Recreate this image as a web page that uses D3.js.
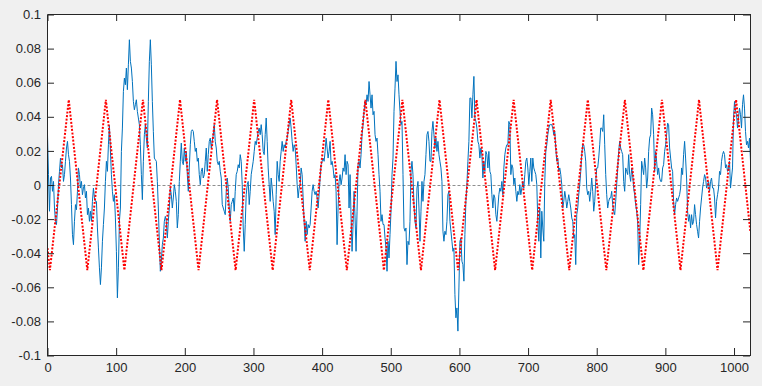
<!DOCTYPE html>
<html>
<head>
<meta charset="utf-8">
<script src="https://cdn.jsdelivr.net/npm/d3@7"></script>
<style>
  html, body { margin: 0; padding: 0; background: #f0f0f0; }
  svg { display: block; }
</style>
</head>
<body>
<script>
// axis settings
const xDomain = [0, 1024];
const yDomain = [-0.1, 0.1];
const xTicks = [0, 100, 200, 300, 400, 500, 600, 700, 800, 900, 1000];
const yTicks = [-0.1, -0.08, -0.06, -0.04, -0.02, 0, 0.02, 0.04, 0.06, 0.08, 0.1];

// red dotted reference: corner points of the triangle wave
const triX = [0, 3.5, 31, 58, 85, 112, 139, 166, 193, 220, 247, 274, 301, 328, 355, 382, 409, 436, 463, 490,
  517, 544, 571, 598, 625, 652, 679, 706, 733, 760, 787, 814, 841, 868, 895, 922, 949, 976, 1003, 1024];
const triY = [-0.037, -0.05, 0.05, -0.05, 0.05, -0.05, 0.05, -0.05, 0.05, -0.05, 0.05, -0.05, 0.05, -0.05,
  0.05, -0.05, 0.05, -0.05, 0.05, -0.05, 0.05, -0.05, 0.05, -0.05, 0.05, -0.05, 0.05, -0.05, 0.05, -0.05,
  0.05, -0.05, 0.05, -0.05, 0.05, -0.05, 0.05, -0.05, 0.05, -0.028];

// blue measured signal, evenly spaced over 0..1024
const signal = [
  0.0295, 0.0061, -0.0154, 0.0041, 0.0051, -0.0037, 0.0021, -0.0135, -0.0213, -0.0232,
  -0.0135, 0.0002, 0.0080, 0.0158, 0.0100, 0.0119, 0.0021, 0.0061, 0.0139, 0.0217,
  0.0256, 0.0178, 0.0139, 0.0041, -0.0115, -0.0291, -0.0350, -0.0213, -0.0115, -0.0145,
  -0.0037, 0.0100, 0.0061, -0.0018, 0.0021, -0.0057, -0.0018, 0.0002, -0.0076, -0.0037,
  -0.0174, -0.0135, -0.0213, -0.0154, -0.0213, -0.0096, -0.0018, -0.0076, -0.0096, -0.0096,
  -0.0252, -0.0369, -0.0486, -0.0584, -0.0486, -0.0330, -0.0232, -0.0135, 0.0021, 0.0139,
  0.0080, 0.0236, 0.0350, 0.0200, 0.0061, -0.0037, -0.0096, -0.0057, -0.0193, -0.0389,
  -0.0662, -0.0486, -0.0213, -0.0135, 0.0197, 0.0334, 0.0549, 0.0627, 0.0588, 0.0686,
  0.0559, 0.0705, 0.0852, 0.0725, 0.0686, 0.0607, 0.0490, 0.0441, 0.0471, 0.0500,
  0.0432, 0.0393, 0.0354, 0.0236, 0.0061, -0.0086, 0.0139, 0.0295, 0.0354, 0.0275, 0.0217,

  0.0490, 0.0725, 0.0852, 0.0705, 0.0490, 0.0314, 0.0158, 0.0148, 0.0139, 0.0021,
  -0.0135, -0.0330, -0.0506, -0.0447, -0.0350, -0.0311, -0.0213, -0.0184, -0.0213, -0.0311,
  -0.0213, -0.0135, -0.0018, -0.0057, -0.0135, -0.0076, 0.0002, -0.0037, -0.0096, -0.0252,
  -0.0174, 0.0021, 0.0139, 0.0246, 0.0139, 0.0119, 0.0217, 0.0139, 0.0197, 0.0061,
  -0.0037, 0.0100, 0.0236, 0.0314, 0.0324, 0.0314, 0.0256, 0.0197, 0.0217, 0.0139,
  0.0158, 0.0061, 0.0002, 0.0080, 0.0100, 0.0041, 0.0061, 0.0139, 0.0217, 0.0080,
  0.0178, 0.0256, 0.0275, 0.0217, 0.0256, 0.0295, 0.0354, 0.0256, 0.0217, 0.0139,
  0.0119, 0.0139, 0.0080, 0.0041, -0.0115, -0.0135, -0.0154, -0.0174, -0.0037, 0.0041,
  -0.0018, -0.0135, -0.0213, -0.0115, -0.0096, -0.0076, -0.0154, -0.0037, 0.0061, 0.0080,
  0.0119, 0.0100, 0.0178, 0.0139, 0.0002, -0.0252, -0.0389, -0.0232, -0.0057, 0.0002, 0.0021,

  -0.0115, -0.0037, 0.0061, 0.0100, 0.0139, 0.0197, 0.0256, 0.0236, 0.0275, 0.0314,
  0.0334, 0.0295, 0.0354, 0.0295, 0.0197, 0.0178, 0.0295, 0.0393, 0.0256, 0.0100,
  0.0002, -0.0096, 0.0041, -0.0018, -0.0096, -0.0154, -0.0291, -0.0057, 0.0139, 0.0061,
  0.0021, 0.0139, 0.0197, 0.0256, 0.0197, 0.0236, 0.0217, 0.0256, 0.0275, 0.0314,
  0.0354, 0.0393, 0.0334, 0.0256, 0.0197, 0.0236, 0.0217, 0.0119, 0.0002, -0.0076,
  -0.0018, 0.0002, 0.0100, 0.0061, -0.0076, -0.0213, -0.0330, -0.0213, -0.0291, -0.0232,
  -0.0252, -0.0232, -0.0135, -0.0037, 0.0002, -0.0037, -0.0057, -0.0037, -0.0076, -0.0135,
  -0.0057, 0.0041, 0.0119, 0.0139, 0.0158, 0.0139, 0.0197, 0.0275, 0.0217, 0.0158,
  0.0197, 0.0256, 0.0119, 0.0139, 0.0100, 0.0041, 0.0061, -0.0037, -0.0350, -0.0135,
  0.0021, 0.0061, 0.0002, 0.0041, 0.0100, 0.0080, 0.0178, 0.0061, 0.0139, 0.0119, -0.0135,

  0.0061, -0.0193, -0.0389, -0.0232, -0.0037, -0.0193, -0.0389, -0.0154, 0.0119, 0.0139,
  0.0100, 0.0178, 0.0295, 0.0354, 0.0432, 0.0490, 0.0471, 0.0529, 0.0490, 0.0607,
  0.0529, 0.0451, 0.0529, 0.0412, 0.0432, 0.0295, 0.0256, 0.0275, 0.0178, 0.0061,
  -0.0037, -0.0213, -0.0174, -0.0232, -0.0232, -0.0311, -0.0369, -0.0506, -0.0330, -0.0428,
  -0.0291, -0.0154, 0.0061, 0.0158, 0.0432, 0.0568, 0.0725, 0.0607, 0.0646, 0.0529,
  0.0432, 0.0354, 0.0373, 0.0061, -0.0252, -0.0271, -0.0252, -0.0467, -0.0330, -0.0350,
  -0.0213, 0.0080, 0.0139, 0.0061, -0.0115, -0.0213, -0.0252, -0.0018, 0.0021, -0.0135,
  -0.0330, -0.0154, 0.0021, -0.0096, 0.0021, 0.0061, 0.0178, 0.0295, 0.0314, 0.0256,
  0.0139, 0.0139, 0.0314, 0.0373, 0.0295, 0.0217, 0.0275, 0.0197, 0.0256, 0.0178,
  0.0139, 0.0100, 0.0021, -0.0271, -0.0330, -0.0271, -0.0291, -0.0213, -0.0057, -0.0037,

  -0.0213, -0.0271, -0.0330, -0.0389, -0.0369, -0.0643, -0.0779, -0.0721, -0.0857, -0.0604,
  -0.0330, -0.0311, -0.0447, -0.0467, -0.0564, -0.0291, -0.0096, 0.0002, 0.0139, 0.0256,
  0.0510, 0.0510, 0.0393, 0.0529, 0.0637, 0.0393, 0.0373, 0.0334, 0.0256, 0.0236,
  0.0158, 0.0217, 0.0178, 0.0041, 0.0139, 0.0080, 0.0197, 0.0178, 0.0100, 0.0197,
  0.0080, 0.0061, -0.0057, -0.0135, -0.0057, -0.0076, -0.0174, -0.0213, -0.0135, -0.0057,
  -0.0018, -0.0037, 0.0021, -0.0057, 0.0100, 0.0178, 0.0217, 0.0236, 0.0236, 0.0373,
  0.0354, 0.0061, 0.0119, 0.0100, 0.0002, 0.0041, -0.0037, -0.0096, -0.0037, -0.0057,
  0.0002, -0.0057, -0.0018, 0.0021, -0.0018, 0.0061, 0.0139, 0.0158, 0.0100, 0.0002,
  0.0080, 0.0158, 0.0021, 0.0158, 0.0100, 0.0080, 0.0061, 0.0002, -0.0213, -0.0330,
  -0.0135, -0.0428, -0.0154, -0.0252, -0.0330, 0.0021, 0.0197, 0.0236, 0.0295, 0.0334, 0.0354,

  0.0354, 0.0354, 0.0334, 0.0295, 0.0314, 0.0217, 0.0139, 0.0158, 0.0080, 0.0100,
  0.0061, 0.0002, -0.0135, -0.0096, -0.0037, -0.0076, -0.0135, -0.0096, -0.0057, -0.0096,
  -0.0135, -0.0193, -0.0213, -0.0311, -0.0291, -0.0467, -0.0174, -0.0135, -0.0057, 0.0002,
  0.0080, 0.0178, 0.0236, 0.0236, 0.0197, 0.0139, -0.0018, -0.0057, -0.0037, -0.0096,
  -0.0037, 0.0041, -0.0037, -0.0154, -0.0096, 0.0021, 0.0100, 0.0100, 0.0158, 0.0236,
  0.0334, 0.0334, 0.0314, 0.0412, 0.0236, 0.0061, -0.0057, -0.0135, -0.0096, -0.0076,
  -0.0076, -0.0037, -0.0115, -0.0154, -0.0174, -0.0096, 0.0002, 0.0100, 0.0197, 0.0256,
  0.0217, 0.0197, 0.0178, 0.0021, -0.0037, 0.0100, 0.0080, 0.0061, 0.0178, 0.0061,
  0.0021, 0.0100, 0.0061, -0.0018, -0.0057, -0.0115, -0.0154, -0.0213, -0.0467, -0.0330,
  -0.0115, 0.0139, 0.0100, 0.0061, 0.0158, 0.0100, -0.0018, 0.0041, 0.0197, 0.0275,
  0.0295, 0.0451,

  0.0412, 0.0295, 0.0080, 0.0197, 0.0139, 0.0061, 0.0100, 0.0041, 0.0021, 0.0021,
  0.0100, 0.0119, 0.0197, 0.0236, 0.0295, 0.0363, 0.0354, 0.0217, 0.0158, 0.0100,
  0.0080, -0.0096, -0.0174, -0.0115, -0.0076, -0.0096, -0.0076, -0.0057, -0.0018, 0.0100,
  0.0061, 0.0178, 0.0256, 0.0158, 0.0041, -0.0154, -0.0213, -0.0174, -0.0252, -0.0174,
  -0.0232, -0.0213, -0.0115, -0.0174, -0.0232, -0.0271, -0.0311, -0.0213, -0.0135, -0.0076,
  -0.0018, 0.0021, 0.0061, 0.0041, -0.0018, 0.0002, 0.0021, -0.0037, 0.0021, 0.0041,
  -0.0018, -0.0018, -0.0076, -0.0193, -0.0096, -0.0057, -0.0018, 0.0080, 0.0061, 0.0139,
  0.0178, 0.0197, 0.0178, 0.0100, 0.0119, 0.0080, 0.0100, 0.0139, -0.0018, 0.0041,
  0.0100, 0.0393, 0.0490, 0.0432, 0.0412, 0.0334, 0.0393, 0.0451, 0.0412, 0.0334,
  0.0471, 0.0529, 0.0451, 0.0314, 0.0236, 0.0256, 0.0217, 0.0275, 0.0139
];

const svgWidth = 762, svgHeight = 386;
const margin = { left: 47, top: 14 };
const plotW = 703, plotH = 341;
const axisColor = '#262626';

let svg = d3.select('body').append('svg')
  .attr('width', svgWidth)
  .attr('height', svgHeight);

svg.append('rect')
  .attr('width', svgWidth)
  .attr('height', svgHeight)
  .attr('fill', '#f0f0f0');

let g = svg.append('g')
  .attr('transform', `translate(${margin.left},${margin.top})`);

g.append('rect')
  .attr('x', 0.5).attr('y', 0.5)
  .attr('width', plotW).attr('height', plotH)
  .attr('fill', '#fff');

const x = d3.scaleLinear().domain(xDomain).range([0.5, plotW + 0.5]);
const y = d3.scaleLinear().domain(yDomain).range([plotH + 0.5, 0.5]);

g.append('clipPath').attr('id', 'plot-clip')
  .append('rect')
  .attr('x', 0.5).attr('y', 0.5)
  .attr('width', plotW).attr('height', plotH);

let plot = g.append('g').attr('clip-path', 'url(#plot-clip)');

// zero reference line
plot.append('path')
  .datum(xDomain)
  .attr('d', d3.line().x(d => x(d)).y(() => Math.round(y(0)) + 0.5))
  .attr('fill', 'none')
  .attr('stroke', '#8f8f8f')
  .attr('stroke-width', 1)
  .attr('stroke-dasharray', '3,2');

// blue signal
const step = (xDomain[1] - xDomain[0]) / (signal.length - 1);
plot.append('path')
  .datum(signal)
  .attr('d', d3.line().x((d, i) => x(i * step)).y(d => y(d)))
  .attr('fill', 'none')
  .attr('stroke', '#0072bd')
  .attr('stroke-width', 1)
  .attr('stroke-linejoin', 'round');

// red dotted triangle
plot.append('path')
  .datum(d3.zip(triX, triY))
  .attr('d', d3.line().x(d => x(d[0])).y(d => y(d[1])))
  .attr('fill', 'none')
  .attr('stroke', '#ff0000')
  .attr('stroke-width', 2)
  .attr('stroke-dasharray', '2,1.6');

// axes (box with inward ticks)
function styleAxis(sel) {
  sel.selectAll('path, line').attr('stroke', axisColor);
  sel.selectAll('text')
    .attr('fill', axisColor)
    .style('font-family', 'Arial, "Liberation Sans", sans-serif')
    .style('font-size', '13px');
}

g.append('g')
  .attr('transform', `translate(0,${plotH})`)
  .call(d3.axisBottom(x).tickValues(xTicks).tickFormat(d => String(d))
    .tickSizeInner(-7).tickSizeOuter(0).tickPadding(8))
  .call(styleAxis);

g.append('g')
  .call(d3.axisTop(x).tickValues(xTicks).tickFormat('')
    .tickSizeInner(-7).tickSizeOuter(0))
  .call(styleAxis);

g.append('g')
  .call(d3.axisLeft(y).tickValues(yTicks).tickFormat(d => String(d))
    .tickSizeInner(-7).tickSizeOuter(0).tickPadding(6))
  .call(styleAxis);

g.append('g')
  .attr('transform', `translate(${plotW},0)`)
  .call(d3.axisRight(y).tickValues(yTicks).tickFormat('')
    .tickSizeInner(-7).tickSizeOuter(0))
  .call(styleAxis);
</script>
</body>
</html>
